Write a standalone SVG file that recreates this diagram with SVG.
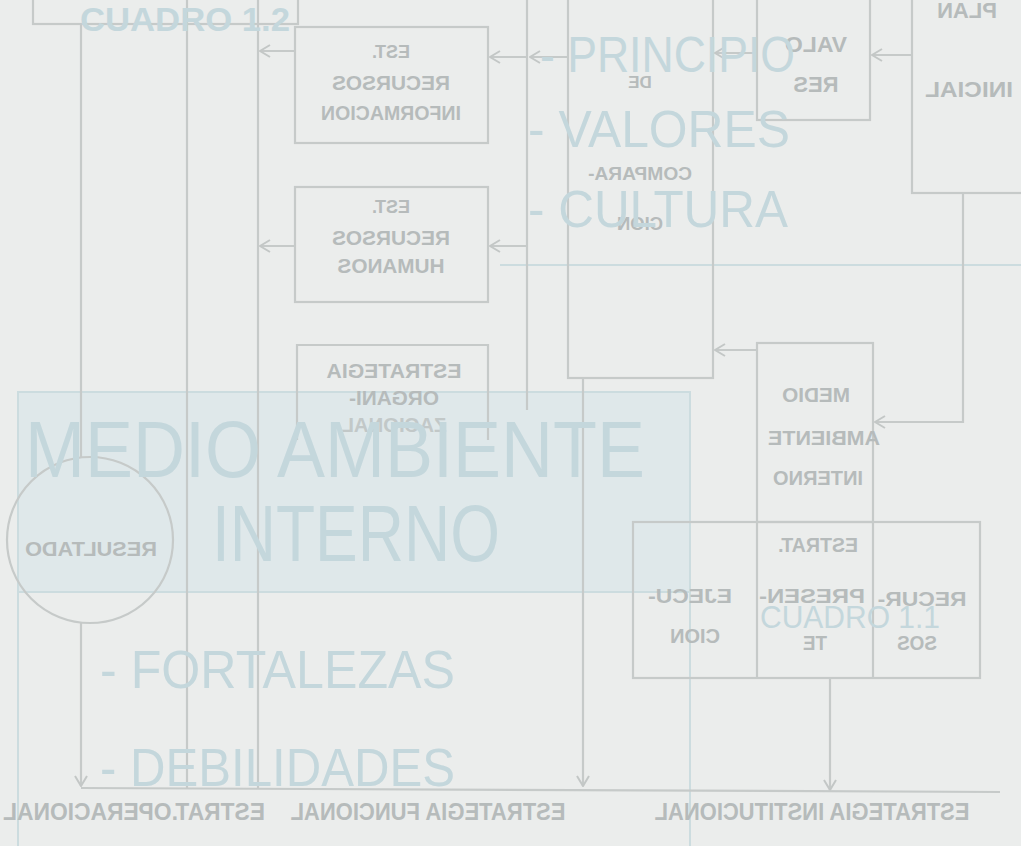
<svg xmlns="http://www.w3.org/2000/svg" width="1021" height="846" viewBox="0 0 1021 846">
<defs>
<style>
.bg{fill:#ebedec}
.ln{fill:none;stroke:#c6cac9;stroke-width:2.2}
.bx{fill:none;stroke:#c6cac9;stroke-width:2.2}
.bk{font-family:"Liberation Sans",Arial,sans-serif;font-weight:bold;fill:#b6bbbb;text-anchor:middle}
.fr{font-family:"Liberation Sans",Arial,sans-serif;fill:#c4d7dc}
.frl{fill:none;stroke:#ccdcdf;stroke-width:2}
</style>
<marker id="ah" viewBox="0 0 12 14" refX="11" refY="7" markerWidth="12" markerHeight="14" orient="auto" markerUnits="userSpaceOnUse">
<path d="M1,1 L11,7 L1,13" fill="none" stroke="#c3c7c6" stroke-width="2"/>
</marker>
</defs>
<rect class="bg" x="0" y="0" width="1021" height="846"/>

<!-- front side (pale blue) -->
<g id="front-panel">
<rect x="18" y="392" width="672" height="200" fill="#dfe8ea" stroke="#ccdcdf" stroke-width="2"/>
<path class="frl" d="M18,592 V850 M690,592 V850"/>
<path class="frl" d="M500,265 H1021"/>
</g>

<!-- connectors (back side) -->
<g id="connectors">
<path class="ln" d="M527,0 V410"/>
<path class="ln" d="M568,57 H530" marker-end="url(#ah)"/>
<path class="ln" d="M527,57 H490" marker-end="url(#ah)"/>
<path class="ln" d="M295,51 H260" marker-end="url(#ah)"/>
<path class="ln" d="M295,246 H260" marker-end="url(#ah)"/>
<path class="ln" d="M527,246 H490" marker-end="url(#ah)"/>
<path class="ln" d="M757,53 H715" marker-end="url(#ah)"/>
<path class="ln" d="M912,55 H872" marker-end="url(#ah)"/>
<path class="ln" d="M963,193 V422 H875" marker-end="url(#ah)"/>
<path class="ln" d="M757,350 H715" marker-end="url(#ah)"/>
<path class="ln" d="M81,24 V457"/>
<path class="ln" d="M81,623 V786" marker-end="url(#ah)"/>
<path class="ln" d="M187,0 V788"/>
<path class="ln" d="M258,0 V788"/>
<path class="ln" d="M583,378 V786" marker-end="url(#ah)"/>
<path class="ln" d="M830,678 V790" marker-end="url(#ah)"/>
<path class="ln" d="M81,788 L1000,792"/>
</g>

<!-- back side nodes (mirrored show-through) -->
<g id="cuadro-box"><rect class="bx" x="33" y="-5" width="265" height="29"/></g>

<g id="est-informacion">
<rect class="bx" x="295" y="27" width="193" height="116"/>
<text class="bk" transform="matrix(-1 0 0 1 391 0)" y="58" font-size="18">EST.</text>
<text class="bk" transform="matrix(-1 0 0 1 391 0)" y="90" font-size="20" textLength="118" lengthAdjust="spacingAndGlyphs">RECURSOS</text>
<text class="bk" transform="matrix(-1 0 0 1 391 0)" y="120" font-size="20" textLength="140" lengthAdjust="spacingAndGlyphs">INFORMACION</text>
</g>

<g id="est-humanos">
<rect class="bx" x="295" y="187" width="193" height="115"/>
<text class="bk" transform="matrix(-1 0 0 1 391 0)" y="213" font-size="18">EST.</text>
<text class="bk" transform="matrix(-1 0 0 1 391 0)" y="245" font-size="20" textLength="118" lengthAdjust="spacingAndGlyphs">RECURSOS</text>
<text class="bk" transform="matrix(-1 0 0 1 391 0)" y="273" font-size="20" textLength="107" lengthAdjust="spacingAndGlyphs">HUMANOS</text>
</g>

<g id="estrategia-organizacional">
<path class="bx" d="M297,440 V345 H488 V440"/>
<text class="bk" transform="matrix(-1 0 0 1 394 0)" y="378" font-size="20" textLength="135" lengthAdjust="spacingAndGlyphs">ESTRATEGIA</text>
<text class="bk" transform="matrix(-1 0 0 1 394 0)" y="405" font-size="20" textLength="90" lengthAdjust="spacingAndGlyphs">ORGANI-</text>
<text class="bk" transform="matrix(-1 0 0 1 394 0)" y="432" font-size="20" textLength="105" lengthAdjust="spacingAndGlyphs" opacity="0.7">ZACIONAL</text>
</g>

<g id="comparacion">
<rect class="bx" x="568" y="-5" width="145" height="383"/>
<text class="bk" transform="matrix(-1 0 0 1 640 0)" y="88" font-size="17">DE</text>
<text class="bk" transform="matrix(-1 0 0 1 640 0)" y="180" font-size="19" textLength="104" lengthAdjust="spacingAndGlyphs">COMPARA-</text>
<text class="bk" transform="matrix(-1 0 0 1 640 0)" y="230" font-size="18" textLength="46" lengthAdjust="spacingAndGlyphs">CION</text>
</g>

<g id="valores">
<rect class="bx" x="757" y="-5" width="113" height="125"/>
<text class="bk" transform="matrix(-1 0 0 1 816 0)" y="52" font-size="22" textLength="62" lengthAdjust="spacingAndGlyphs">VALO</text>
<text class="bk" transform="matrix(-1 0 0 1 816 0)" y="92" font-size="22" textLength="45" lengthAdjust="spacingAndGlyphs">RES</text>
</g>

<g id="plan-inicial">
<rect class="bx" x="912" y="-5" width="115" height="198"/>
<text class="bk" transform="matrix(-1 0 0 1 967 0)" y="18" font-size="22" textLength="60" lengthAdjust="spacingAndGlyphs">PLAN</text>
<text class="bk" transform="matrix(-1 0 0 1 969 0)" y="97" font-size="22" textLength="88" lengthAdjust="spacingAndGlyphs">INICIAL</text>
</g>

<g id="medio-ambiente-interno">
<rect class="bx" x="757" y="343" width="116" height="179"/>
<text class="bk" transform="matrix(-1 0 0 1 816 0)" y="402" font-size="21" textLength="68" lengthAdjust="spacingAndGlyphs">MEDIO</text>
<text class="bk" transform="matrix(-1 0 0 1 824 0)" y="445" font-size="21" textLength="112" lengthAdjust="spacingAndGlyphs">AMBIENTE</text>
<text class="bk" transform="matrix(-1 0 0 1 818 0)" y="485" font-size="21" textLength="90" lengthAdjust="spacingAndGlyphs">INTERNO</text>
</g>

<g id="estrat-grid">
<rect class="bx" x="633" y="522" width="347" height="156"/>
<path class="bx" d="M757,522 V678 M873,522 V678"/>
<text class="bk" transform="matrix(-1 0 0 1 818 0)" y="552" font-size="21" textLength="80" lengthAdjust="spacingAndGlyphs">ESTRAT.</text>
<text class="bk" transform="matrix(-1 0 0 1 812 0)" y="603" font-size="21" textLength="106" lengthAdjust="spacingAndGlyphs">PRESEN-</text>
<text class="bk" transform="matrix(-1 0 0 1 815 0)" y="650" font-size="21" textLength="24" lengthAdjust="spacingAndGlyphs">TE</text>
<text class="bk" transform="matrix(-1 0 0 1 690 0)" y="603" font-size="21" textLength="84" lengthAdjust="spacingAndGlyphs">EJECU-</text>
<text class="bk" transform="matrix(-1 0 0 1 695 0)" y="643" font-size="21" textLength="50" lengthAdjust="spacingAndGlyphs">CION</text>
<text class="bk" transform="matrix(-1 0 0 1 922 0)" y="606" font-size="21" textLength="89" lengthAdjust="spacingAndGlyphs">RECUR-</text>
<text class="bk" transform="matrix(-1 0 0 1 917 0)" y="650" font-size="21" textLength="40" lengthAdjust="spacingAndGlyphs">SOS</text>
</g>

<g id="resultado">
<circle cx="90" cy="540" r="83" fill="none" stroke="#c6cac9" stroke-width="2.2"/>
<text class="bk" transform="matrix(-1 0 0 1 91 0)" y="556" font-size="21" textLength="132" lengthAdjust="spacingAndGlyphs">RESULTADO</text>
</g>

<g id="bottom-labels">
<text class="bk" transform="matrix(-1 0 0 1 134 0)" y="820" font-size="23" textLength="262" lengthAdjust="spacingAndGlyphs">ESTRAT.OPERACIONAL</text>
<text class="bk" transform="matrix(-1 0 0 1 428 0)" y="820" font-size="23" textLength="275" lengthAdjust="spacingAndGlyphs">ESTRATEGIA  FUNCIONAL</text>
<text class="bk" transform="matrix(-1 0 0 1 812 0)" y="820" font-size="23" textLength="315" lengthAdjust="spacingAndGlyphs">ESTRATEGIA  INSTITUCIONAL</text>
</g>

<!-- front side texts -->
<g id="front-texts">
<text class="fr" x="80" y="31" font-size="34" font-weight="bold" textLength="210" lengthAdjust="spacingAndGlyphs" fill="#bcd2da">CUADRO 1.2</text>
<text class="fr" x="540" y="72" font-size="50" textLength="255" lengthAdjust="spacingAndGlyphs">- PRINCIPIO</text>
<text class="fr" x="528" y="147" font-size="52" textLength="262" lengthAdjust="spacingAndGlyphs">- VALORES</text>
<text class="fr" x="528" y="227" font-size="52" textLength="260" lengthAdjust="spacingAndGlyphs">- CULTURA</text>
<text class="fr" x="25" y="477" font-size="80" textLength="620" lengthAdjust="spacingAndGlyphs">MEDIO AMBIENTE</text>
<text class="fr" x="212" y="561" font-size="80" textLength="288" lengthAdjust="spacingAndGlyphs">INTERNO</text>
<text class="fr" x="100" y="688" font-size="54" textLength="355" lengthAdjust="spacingAndGlyphs">- FORTALEZAS</text>
<text class="fr" x="100" y="786" font-size="54" textLength="355" lengthAdjust="spacingAndGlyphs">- DEBILIDADES</text>
<text class="fr" x="760" y="628" font-size="32" textLength="180" lengthAdjust="spacingAndGlyphs">CUADRO 1.1</text>
</g>
</svg>
